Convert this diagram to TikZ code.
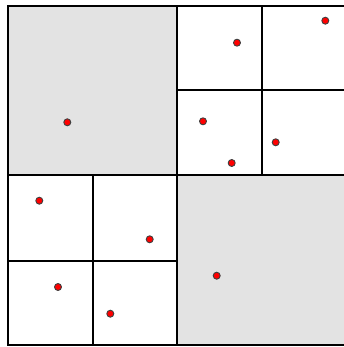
\documentclass[tikz,border=0pt]{standalone}
\definecolor{cellgray}{HTML}{E3E3E3}
\definecolor{dotred}{HTML}{FF0000}
\tikzset{
  cellline/.style={draw=black, line width=2pt},
  graycell/.style={fill=cellgray},
  pt/.style={circle, fill=dotred, draw=black!75, line width=0.9pt, inner sep=0pt, minimum size=7pt},
}
\begin{document}
\begin{tikzpicture}[x=1pt,y=-1pt]
\useasboundingbox (0,0) rectangle (344,347);
% gray leaves
\fill[graycell] (8,6) rectangle (177,175);
\fill[graycell] (177,175) rectangle (346,345);
% subdivision lines
\draw[cellline] (8,6) rectangle (346,345);
\draw[cellline] (177,6) -- (177,345);
\draw[cellline] (8,175) -- (346,175);
\draw[cellline] (262,6) -- (262,175);
\draw[cellline] (177,90.5) -- (346,90.5);
\draw[cellline] (92.5,175) -- (92.5,345);
\draw[cellline] (8,260.5) -- (177,260.5);
% points
\node[pt] (p1) at (67.3,122.3) {};
\node[pt] (p2) at (237,42.7) {};
\node[pt] (p3) at (325.3,20.7) {};
\node[pt] (p4) at (203,121.3) {};
\node[pt] (p5) at (231.7,163) {};
\node[pt] (p6) at (275.7,142.3) {};
\node[pt] (p7) at (39.3,200.7) {};
\node[pt] (p8) at (149.7,239.3) {};
\node[pt] (p9) at (58,287) {};
\node[pt] (p10) at (110.3,313.7) {};
\node[pt] (p11) at (216.7,275.7) {};
\end{tikzpicture}
\end{document}
